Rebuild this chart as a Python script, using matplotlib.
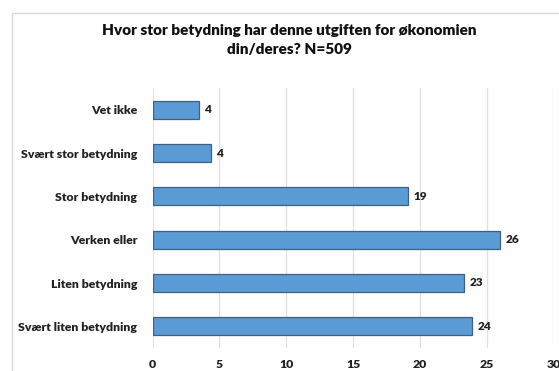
import matplotlib.pyplot as plt
from matplotlib.patches import Rectangle

# Survey answers, listed bottom to top as drawn
categories = ['Svært liten betydning', 'Liten betydning', 'Verken eller',
              'Stor betydning', 'Svært stor betydning', 'Vet ikke']
shares = [23.9, 23.3, 26.0, 19.1, 4.4, 3.5]
x_ticks = [0, 5, 10, 15, 20, 25, 30]

plt.rcParams['font.family'] = ['Lato', 'DejaVu Sans']
WEIGHT = 800

fig = plt.figure(figsize=(5.59, 3.71), dpi=100)
fig.patch.set_facecolor('white')

# light chart frame around the plot area
fig.patches.append(Rectangle((12 / 559, -0.1), 1.2, 1 - 13 / 371 + 0.1,
                             transform=fig.transFigure, fill=False,
                             edgecolor='#d9d9d9', linewidth=1.0))

ax = fig.add_axes([152.6 / 559, 1 - 348 / 371, (553.4 - 152.6) / 559, 260 / 371])

ypos = range(len(categories))
ax.barh(ypos, shares, height=0.42, color='#5b9bd5',
        edgecolor='#41607f', linewidth=0.9, zorder=3)

for y, v in zip(ypos, shares):
    ax.text(v + 0.4, y, f'{v:.0f}', va='center', ha='left',
            fontsize=8.5, fontweight=WEIGHT, color='#222222')

ax.set_xlim(0, 30)
ax.set_ylim(-0.5, len(categories) - 0.5)
ax.set_xticks(x_ticks)
ax.set_yticks(list(ypos))
ax.set_yticklabels(categories)
ax.tick_params(axis='both', length=0, labelsize=8.8, colors='#222222')
ax.tick_params(axis='y', pad=11)
ax.tick_params(axis='x', pad=8)
for lbl in ax.get_xticklabels() + ax.get_yticklabels():
    lbl.set_fontweight(WEIGHT)

ax.grid(axis='x', color='#e0e0e0', linewidth=0.9, zorder=0)
for s in ax.spines.values():
    s.set_visible(False)

fig.text(289 / 559, 1 - 40 / 371,
         'Hvor stor betydning har denne utgiften for økonomien\ndin/deres? N=509',
         ha='center', va='center', fontsize=11, fontweight=WEIGHT,
         color='#111111', linespacing=1.5)

fig.savefig('out.png', dpi=100)
